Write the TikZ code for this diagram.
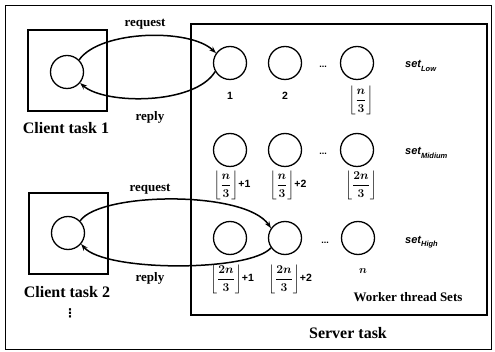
\documentclass[tikz,border=0pt]{standalone}
\usepackage{amsmath}
\usepackage{fontspec}
\setmainfont{Liberation Serif}
\setsansfont{Liberation Sans}
\newfontfamily\djv{DejaVu Sans}
\usetikzlibrary{arrows.meta}
\newcommand{\myflr}[1]{{\fontsize{12.5}{14}\selectfont$\left\lfloor\dfrac{#1}{3}\right\rfloor$}}
\begin{document}
\begin{tikzpicture}[x=1pt,y=-1pt,
  circ/.style={circle,draw,line width=1.3pt,minimum size=33pt,inner sep=0pt},
  taskbox/.style={draw,line width=1.3pt},
  msg/.style={font=\bfseries\fontsize{13}{15}\selectfont,inner sep=0pt},
  big/.style={font=\bfseries\fontsize{16}{18}\selectfont,inner sep=0pt},
  idx/.style={font=\sffamily\bfseries\boldmath\fontsize{10.5}{12}\selectfont,inner sep=0pt},
  setl/.style={font=\sffamily\bfseries\itshape\fontsize{11}{13}\selectfont,inner sep=0pt,anchor=west},
  dots/.style={font=\sffamily\bfseries\fontsize{9}{10}\selectfont,inner sep=0pt},
  conn/.style={line width=1.5pt,-{Stealth[length=7pt,width=5pt]}}]
\useasboundingbox (0,0) rectangle (495,352);
\draw[line width=0.8pt] (5,5) rectangle (491,349);
% client boxes
\draw[taskbox] (28,30) rectangle (107,111);
\draw[taskbox] (29,193) rectangle (108,274);
\node[circ] (c1) at (67,72) {};
\node[circ] (c2) at (68,233) {};
\node[big] (ct1) at (66,128) {Client task 1};
\node[big] (ct2) at (67,292) {Client task 2};
\node[font=\djv\bfseries\fontsize{12}{14}\selectfont,inner sep=0pt] (vd) at (70,313) {⋮};
% server box
\draw[taskbox] (191,24) rectangle (487,315);
\node[big] (st) at (348,333) {Server task};
\node[font=\bfseries\fontsize{13}{15}\selectfont,inner sep=0pt] (wts) at (408,297) {Worker thread Sets};
% worker circles
\node[circ] (w11) at (230,63) {};
\node[circ] (w12) at (285,63) {};
\node[circ] (w13) at (357,63) {};
\node[circ] (w21) at (230,150) {};
\node[circ] (w22) at (285,150) {};
\node[circ] (w23) at (357,150) {};
\node[circ] (w31) at (230,238) {};
\node[circ] (w32) at (285,238) {};
\node[circ] (w33) at (358,238) {};
\node[dots] (d1) at (323,67) {...};
\node[dots] (d2) at (323,154) {...};
\node[dots] (d3) at (325,243) {...};
% set labels
\node[setl] (s1) at (405,66) {set\raisebox{-0.6ex}{\fontsize{7.5}{8}\selectfont Low}};
\node[setl] (s2) at (405,153) {set\raisebox{-0.6ex}{\fontsize{7.5}{8}\selectfont Midium}};
\node[setl] (s3) at (405,242) {set\raisebox{-0.6ex}{\fontsize{7.5}{8}\selectfont High}};
% index labels
\node[idx] (l11) at (230,96) {1};
\node[idx] (l12) at (285,96) {2};
\node[idx] (l13) at (361,100) {\myflr{n}};
\node[idx] (l21) at (232,185) {\myflr{n}+1};
\node[idx] (l22) at (288,185) {\myflr{n}+2};
\node[idx] (l23) at (361,185) {\myflr{2n}};
\node[idx] (l31) at (232,279) {\myflr{2n}+1};
\node[idx] (l32) at (290,279) {\myflr{2n}+2};
\node[idx] (l33) at (363,271) {$n$};
% messages
\node[msg] (rq1) at (145,24) {request};
\node[msg] (rp1) at (150,117) {reply};
\node[msg] (rq2) at (150,189) {request};
\node[msg] (rp2) at (150,278) {reply};
\draw[conn] (c1.45) .. controls (100,30) and (190,28) .. (w11.145);
\draw[conn] (w11.210) .. controls (195,105) and (105,105) .. (c1.-40);
\draw[conn] (c2.45) .. controls (100,192) and (245,190) .. (w32.145);
\draw[conn] (w32.215) .. controls (250,272) and (105,272) .. (c2.-40);
\end{tikzpicture}
\end{document}
